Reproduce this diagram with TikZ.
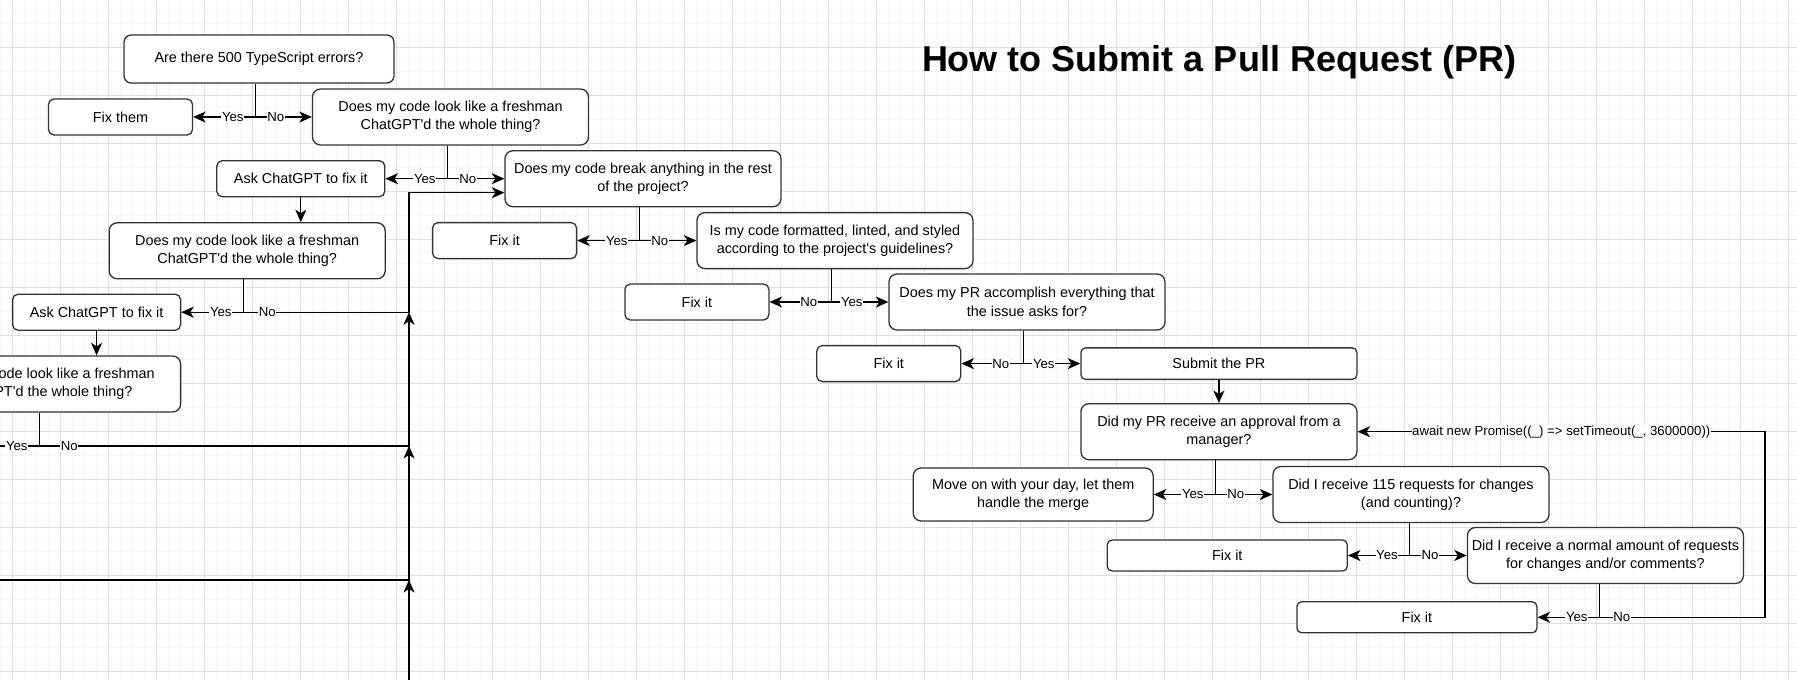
\documentclass[tikz,border=0pt]{standalone}
\usepackage{fontspec}
\setmainfont{Liberation Sans}
\usetikzlibrary{arrows.meta,calc}

\begin{document}
\begin{tikzpicture}[x=1pt,y=-1pt]
% size of the question boxes
\def\qw{276pt}
\def\qh{56pt}
% node style definition
\tikzstyle{box} = [
	draw=black!80, fill=white, rectangle, line width=1.3pt,
	align=center, inner sep=0pt, font=\fontsize{14.4}{18.3}\selectfont ];
\tikzstyle{question} = [box, rounded corners=8pt, minimum width=\qw, minimum height=\qh];
\tikzstyle{fix} = [box, rounded corners=5.4pt, minimum width=144pt, minimum height=36pt];
\tikzstyle{ask} = [box, rounded corners=5.4pt, minimum width=168pt, minimum height=36pt];
\tikzstyle{wide} = [box, rounded corners=4.7pt, minimum width=240pt, minimum height=31pt];
\tikzstyle{plain} = [draw=none, fill=white, inner sep=0.6pt, font=\fontsize{13.2}{15}\selectfont];
\tikzstyle{link} = [draw=black, line width=1.2pt];
\tikzstyle{flow} = [link, -{Stealth[length=12.5pt,width=11pt,inset=3.5pt]}];

% page and grid
\path[use as bounding box, clip] (0,0) rectangle (1797,680);
\fill[white] (0,0) rectangle (1797,680);
\foreach \g in {0.5,12.5,...,1797} \draw[gray!8, line width=1pt] (\g,0) -- (\g,680);
\foreach \g in {11.7,23.7,...,680} \draw[gray!8, line width=1pt] (0,\g) -- (1797,\g);
\foreach \g in {12.5,60.5,...,1797} \draw[gray!25, line width=1pt] (\g,0) -- (\g,680);
\foreach \g in {47.7,95.7,...,680} \draw[gray!25, line width=1pt] (0,\g) -- (1797,\g);

\node[font=\fontsize{36}{40}\selectfont\bfseries, anchor=base] (title) at (1219,71.7) {How to Submit a Pull Request (PR)};

\node[box, rounded corners=7.2pt, minimum width=270pt, minimum height=48pt] (typescript) at (259,59) {Are there 500 TypeScript errors?};
\node[fix] (fixthem) at (120.5,117) {Fix them};
\node[question] (fresh1) at (450.5,117) {Does my code look like a freshman\\ChatGPT\textquotesingle d the whole thing?};

\node[ask] (ask1) at (300.8,178.7) {Ask ChatGPT to fix it};
\node[question] (breaks) at (643,178.7) {Does my code break anything in the rest\\of the project?};

\node[question] (fresh2) at (247.2,250.8) {Does my code look like a freshman\\ChatGPT\textquotesingle d the whole thing?};
\node[fix] (fixbreak) at (504.6,240.6) {Fix it};
\node[question] (lint) at (835,240.6) {Is my code formatted, linted, and styled\\according to the project\textquotesingle s guidelines?};

\node[ask] (ask2) at (96.6,312.2) {Ask ChatGPT to fix it};
\node[fix] (fixlint) at (696.9,302) {Fix it};
\node[question] (issue) at (1027,302) {Does my PR accomplish everything that\\the issue asks for?};

\node[question] (fresh3) at (42.6,384) {Does my code look like a freshman\\ChatGPT\textquotesingle d the whole thing?};
\node[fix] (fixissue) at (888.8,363.6) {Fix it};
\node[question, rounded corners=4.7pt, minimum height=31.5pt] (submit) at (1218.9,363.6) {Submit the PR};

\node[question] (approval) at (1218.9,431.7) {Did my PR receive an approval from a\\manager?};
\node[wide, rounded corners=8pt, minimum height=53pt] (moveon) at (1033.2,494.5) {Move on with your day, let them\\handle the merge};
\node[question] (requests) at (1411,494.5) {Did I receive 115 requests for changes\\(and counting)?};

\node[wide] (fixrequests) at (1227.3,555.5) {Fix it};
\node[question] (normal) at (1605.4,555.5) {Did I receive a normal amount of requests\\for changes and/or comments?};
\node[wide] (fixnormal) at (1416.9,617.3) {Fix it};

% straight arrows down
\draw[flow] (ask1.south) -- (ask1.south |- fresh2.north);
\draw[flow] (ask2.south) -- (ask2.south |- fresh3.north);
\draw[flow] (submit.south) -- (submit.south |- approval.north);

% yes / no branches below each question
\foreach \q/\dx/\l/\r/\ll/\rl in {
	typescript/-3.7/fixthem/fresh1/Yes/No,
	fresh1/-3.2/ask1/breaks/Yes/No,
	breaks/-3.7/fixbreak/lint/Yes/No,
	lint/-3.7/fixlint/issue/No/Yes,
	issue/-3.7/fixissue/submit/No/Yes,
	approval/-3.6/moveon/requests/Yes/No,
	requests/-1.5/fixrequests/normal/Yes/No}
{
	\coordinate (stem) at ($(\q.south)+(\dx,0)$);
	\draw[flow] (stem) |- (\l.east);
	\draw[flow] (stem) |- (\r.west);
	\node[plain] (\q-\ll) at ($(stem |- \l.east)+(-22.5,0)$) {\ll};
	\node[plain] (\q-\rl) at ($(stem |- \r.west)+(20.5,0)$) {\rl};
}

% the rail that leads back into the break check
\coordinate (stem2) at ($(fresh2.south)+(-3.9,0)$);
\coordinate (stem3) at ($(fresh3.south)+(-3.3,0)$);
\coordinate (railtop) at (409,192.7);
\coordinate (railE) at (409,312.2);
\coordinate (railG) at (409,446);
\coordinate (railH) at (409,580);
\coordinate (railend) at (409,690);
\coordinate (offyes) at (-20,446);
\coordinate (offno) at (-20,580);

\draw[flow] (stem2) |- (ask2.east);
\draw[flow] (stem2) |- (railE) -- (railtop) -- (railtop -| breaks.west);
\draw[flow] (stem3) |- (offyes);
\draw[flow] (stem3) |- (railG) -- (railE);
\draw[flow] (offno) -- (railH) -- (railG);
\draw[flow] (railend) -- (railH);

\node[plain] (fresh2-Yes) at ($(stem2 |- ask2.east)+(-22.5,0)$) {Yes};
\node[plain] (fresh2-No) at ($(stem2 |- ask2.east)+(24,0)$) {No};
\node[plain] (fresh3-Yes) at ($(stem3 |- railG)+(-22.5,0)$) {Yes};
\node[plain] (fresh3-No) at ($(stem3 |- railG)+(30,0)$) {No};

% waiting loop back to the approval check
\coordinate (stemN) at ($(normal.south)+(-6.1,0)$);
\coordinate (loop) at (1765,0);
\draw[flow] (stemN) |- (fixnormal.east);
\draw[flow] (stemN) |- (loop |- fixnormal) -- (loop |- approval) -- (approval.east)
	node[plain, midway] (wait) {await new Promise((\_) => setTimeout(\_, 3600000))};
\node[plain] (normal-Yes) at ($(stemN |- fixnormal)+(-22.5,0)$) {Yes};
\node[plain] (normal-No) at ($(stemN |- fixnormal)+(22.5,0)$) {No};
\end{tikzpicture}
\end{document}
